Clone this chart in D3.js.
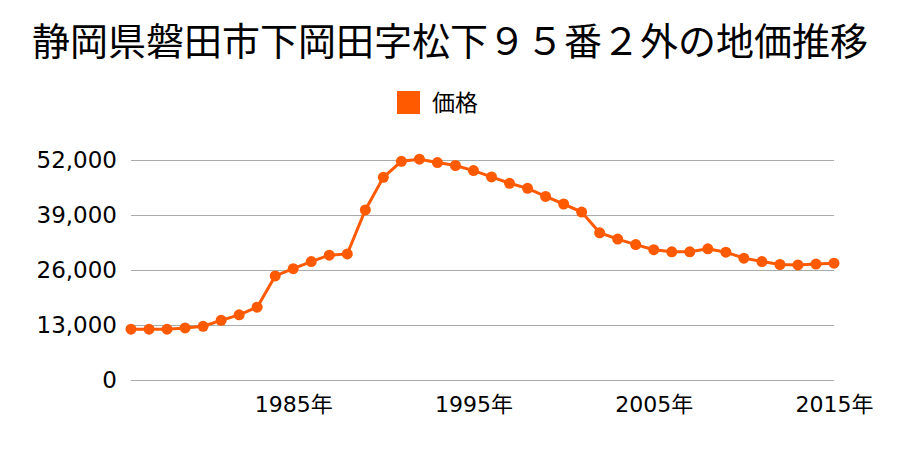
<!DOCTYPE html>
<html><head><meta charset="utf-8">
<script src="https://cdn.jsdelivr.net/npm/d3@7/dist/d3.min.js"></script>
<style>body{margin:0;background:#fff}svg{display:block;font-family:"DejaVu Sans","Noto Sans CJK JP",sans-serif}</style>
</head><body><svg id="c" width="900" height="450"></svg>
<script>
const title = "静岡県磐田市下岡田字松下９５番２外の地価推移";
const seriesName = "価格";
const years = d3.range(1976, 2016);
const prices = [12000,12000,12000,12300,12700,14100,15400,17200,24600,26300,
  28000,29500,29800,40200,47900,51700,52200,51400,50700,49500,
  48000,46500,45300,43400,41600,39700,34800,33300,32000,30800,
  30300,30300,31000,30200,28800,28000,27300,27200,27400,27600];
const yTicks = [0,13000,26000,39000,52000];
const xTicks = [1985,1995,2005,2015];
const color = "#ff5a00";

const svg = d3.select("#c");
const x = d3.scaleLinear().domain([1976,2015]).range([131,834]);
const y = d3.scaleLinear().domain([0,52000]).range([380,160]);

svg.append("text").attr("x",450).attr("y",55).attr("text-anchor","middle")
  .attr("font-family","'Noto Sans CJK JP',sans-serif")
  .attr("font-size",38).attr("fill","#000").text(title);

svg.append("rect").attr("x",397).attr("y",91).attr("width",23).attr("height",23).attr("fill",color);
svg.append("text").attr("x",432).attr("y",111).attr("font-size",23)
  .attr("font-family","'Noto Sans CJK JP',sans-serif").attr("fill","#000").text(seriesName);

const yAxis = d3.axisLeft(y).tickValues(yTicks).tickSize(-(834-131)).tickPadding(14)
  .tickFormat(d3.format(","));
const gy = svg.append("g").attr("transform","translate(131,0)").call(yAxis);
gy.select(".domain").remove();
gy.selectAll(".tick line").attr("stroke","#aaa").attr("stroke-width",1);
gy.selectAll(".tick text").attr("font-size",23).attr("fill","#000")
  .attr("font-family","'DejaVu Sans',sans-serif");

const xAxis = d3.axisBottom(x).tickValues(xTicks).tickSize(0)
  .tickFormat(d => d + "年");
const gx = svg.append("g").attr("transform","translate(0,380)").call(xAxis);
gx.select(".domain").remove();
gx.selectAll(".tick text").attr("font-size",22).attr("fill","#000")
  .attr("y",32).attr("dy",0).attr("font-family","'DejaVu Sans','Noto Sans CJK JP',sans-serif");

const data = years.map((yr,i)=>({yr, v: prices[i]}));
svg.append("path").datum(data)
  .attr("fill","none").attr("stroke",color).attr("stroke-width",3)
  .attr("d", d3.line().x(d=>x(d.yr)).y(d=>y(d.v)));
svg.append("g").selectAll("circle").data(data).join("circle")
  .attr("cx",d=>x(d.yr)).attr("cy",d=>y(d.v)).attr("r",5.5).attr("fill",color);
</script></body></html>
